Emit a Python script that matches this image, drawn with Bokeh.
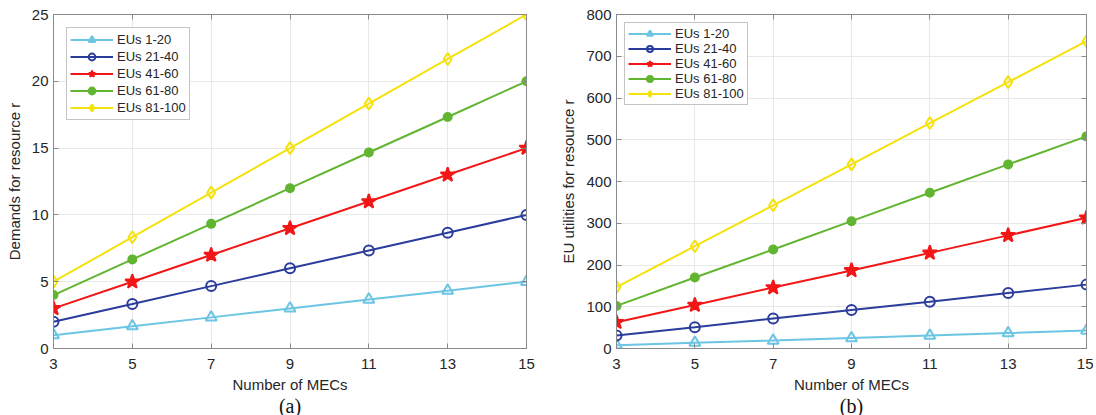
from bokeh.plotting import figure
from bokeh.layouts import row
from bokeh.models import LinearAxis, FixedTicker, Title, Range1d
from bokeh.embed import file_html
from bokeh.resources import INLINE

# ---- data ----
mecs = [3, 5, 7, 9, 11, 13, 15]
groups = ["EUs 1-20", "EUs 21-40", "EUs 41-60", "EUs 61-80", "EUs 81-100"]

demand_1_20 = [1.0, 1.67, 2.33, 3.0, 3.67, 4.33, 5.0]
demand_21_40 = [2.0, 3.33, 4.67, 6.0, 7.33, 8.67, 10.0]
demand_41_60 = [3.0, 5.0, 7.0, 9.0, 11.0, 13.0, 15.0]
demand_61_80 = [4.0, 6.67, 9.33, 12.0, 14.67, 17.33, 20.0]
demand_81_100 = [5.0, 8.33, 11.67, 15.0, 18.33, 21.67, 25.0]

utility_1_20 = [8, 14, 19, 25, 31, 37, 43]
utility_21_40 = [31, 51, 72, 92, 112, 133, 153]
utility_41_60 = [63, 104, 146, 187, 229, 271, 313]
utility_61_80 = [102, 170, 237, 305, 373, 441, 508]
utility_81_100 = [147, 245, 343, 441, 540, 638, 736]

demand_ticks = [0, 5, 10, 15, 20, 25]
utility_ticks = [0, 100, 200, 300, 400, 500, 600, 700, 800]

# ---- styles ----
FONT = "Liberation Sans"
AXIS_GRAY = "#8a8a8a"
TEXT = "#262626"
colors = ["#6cc5e3", "#2b3d9c", "#f21616", "#62b531", "#f5e10c"]
markers = ["triangle", "circle", "star", "circle", "diamond"]
sizes = [11, 10, 15, 8, 12]
filled = [False, False, True, True, False]


def panel(series, yticks, ylabel, tag, fw, mbl, mbr, leg_loc, leg_h):
    p = figure(frame_width=fw, frame_height=334, output_backend="svg",
               toolbar_location=None, x_range=Range1d(3, 15),
               y_range=Range1d(yticks[0], yticks[-1]),
               min_border_left=mbl, min_border_right=mbr,
               min_border_top=14, min_border_bottom=67)
    p.background_fill_color = "white"
    p.border_fill_color = "white"
    p.outline_line_color = AXIS_GRAY
    for ax, tk in ((p.xaxis[0], mecs), (p.yaxis[0], yticks)):
        ax.ticker = FixedTicker(ticks=tk)
        ax.axis_line_color = AXIS_GRAY
        ax.major_tick_line_color = AXIS_GRAY
        ax.major_tick_in = 5
        ax.major_tick_out = 0
        ax.minor_tick_line_color = None
        ax.major_label_text_font = FONT
        ax.major_label_text_font_size = "15px"
        ax.major_label_text_color = TEXT
        ax.axis_label_text_font = FONT
        ax.axis_label_text_font_size = "15px"
        ax.axis_label_text_font_style = "normal"
        ax.axis_label_text_color = TEXT
    p.xaxis.major_label_standoff = 10
    p.yaxis.major_label_standoff = 5
    p.xaxis.axis_label = "Number of MECs"
    p.yaxis.axis_label = ylabel
    p.xaxis.axis_label_standoff = 4
    p.yaxis.axis_label_standoff = 6
    for place, tk in (("above", mecs), ("right", yticks)):
        a = LinearAxis(ticker=FixedTicker(ticks=tk))
        a.axis_line_color = AXIS_GRAY
        a.major_tick_line_color = AXIS_GRAY
        a.major_tick_in = 5
        a.major_tick_out = 0
        a.minor_tick_line_color = None
        a.major_label_overrides = {t: "" for t in tk}
        a.major_label_text_font_size = "6px"
        a.major_label_standoff = 0
        p.add_layout(a, place)
    p.xgrid.ticker = FixedTicker(ticks=mecs)
    p.ygrid.ticker = FixedTicker(ticks=yticks)
    p.grid.grid_line_color = "#e8e8e8"
    p.grid.grid_line_width = 1

    for ys, name, c, m, s, f in zip(series, groups, colors, markers, sizes, filled):
        p.line(mecs, ys, line_color=c, line_width=2, legend_label=name)
        p.scatter(mecs, ys, marker=m, size=s, line_color=c, line_width=2,
                  fill_color=c if f else None, legend_label=name)

    lg = p.legend[0]
    lg.location = leg_loc
    lg.label_text_font = FONT
    lg.label_text_font_size = "13px"
    lg.label_text_color = TEXT
    lg.glyph_width = 43
    lg.glyph_height = leg_h
    lg.label_height = leg_h
    lg.spacing = 0
    lg.padding = 3
    lg.margin = 0
    lg.label_standoff = 4
    lg.border_line_color = AXIS_GRAY
    lg.border_line_width = 1
    lg.background_fill_alpha = 1.0

    t = Title(text=tag, align="center", text_font="Liberation Serif",
              text_font_size="20px", text_font_style="normal",
              text_color="#111111", standoff=-6, offset=0)
    p.add_layout(t, "below")
    return p


left = panel([demand_1_20, demand_21_40, demand_41_60, demand_61_80, demand_81_100],
             demand_ticks, "Demands for resource r", "(a)", 473, 53, 31,
             (13, 228), 17)
right = panel([utility_1_20, utility_21_40, utility_41_60, utility_61_80, utility_81_100],
              utility_ticks, "EU utilities for resource r", "(b)", 470, 57, 7,
              (8, 243), 15)

layout = row(left, right)
open("out.html", "w").write(file_html(layout, INLINE))
